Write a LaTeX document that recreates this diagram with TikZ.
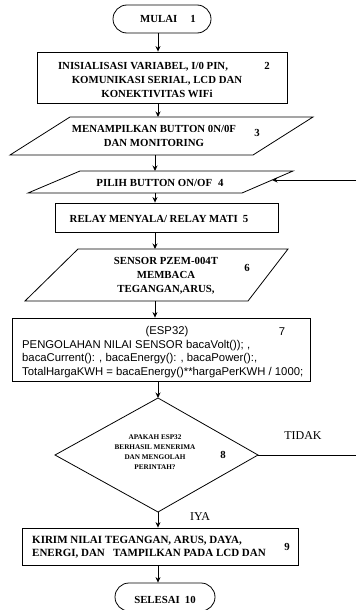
\documentclass[tikz,border=0pt]{standalone}
\usepackage{fontspec}
\setmainfont{Liberation Serif}
\newfontfamily\arialf{Liberation Sans}
\usetikzlibrary{arrows.meta}
\begin{document}
\begin{tikzpicture}[x=1pt,y=-1pt,
  shp/.style={draw=black, line width=0.8pt},
  arr/.style={-{Stealth[length=5.5pt,width=5pt]}, line width=0.9pt},
  tb/.style={inner sep=0pt, font=\fontsize{10.8}{14}\selectfont\bfseries, align=center},
  ts/.style={inner sep=0pt, font=\fontsize{7.2}{10}\selectfont\bfseries, align=center},
  ta/.style={inner sep=0pt, font=\arialf\fontsize{11.3}{13.3}\selectfont, align=left},
  tr/.style={inner sep=0pt, font=\fontsize{12}{14}\selectfont}]
\useasboundingbox (0,0) rectangle (356,610);
% coordinates for connector x positions
\coordinate (ax) at (158,0);
\coordinate (bx) at (155,0);
% 1 terminal
\node[shp, rounded corners=14pt, minimum width=98pt, minimum height=28pt, inner sep=0pt] (n1) at (162,19) {};
\node[tb] (t1) at (168,19) {MULAI\hspace{13pt}1};
% 2 box
\node[shp, minimum width=250pt, minimum height=51pt, inner sep=0pt] (n2) at (162,77.5) {};
\node[tb] (t2) at (157,80) {INISIALISASI VARIABEL, I/0 PIN,\hspace*{28pt}\\KOMUNIKASI SERIAL, LCD DAN\\KONEKTIVITAS WIFi};
\node[tb] (k2) at (267,66) {2};
% 3 parallelogram
\coordinate (p3t) at (158,117);
\coordinate (p3b) at (155,155);
\draw[shp] (70,117) -- (313,117) -- (253,155) -- (10,155) -- cycle;
\node[tb] (t3) at (154,135.5) {MENAMPILKAN BUTTON 0N/0F\\DAN MONITORING};
\node[tb] (k3) at (257,133) {3};
% 4 parallelogram
\coordinate (p4t) at (155,171);
\coordinate (p4b) at (155,193);
\coordinate (p4r) at (272,180);
\coordinate (e4) at (356,180);
\draw[shp] (80,171) -- (293,171) -- (242,193) -- (28,193) -- cycle;
\node[tb] (t4) at (160,183) {PILIH BUTTON ON/OF\hspace{6pt}4};
% 5 box
\node[shp, minimum width=223pt, minimum height=29pt, inner sep=0pt] (n5) at (166.5,217.5) {};
\node[tb] (t5) at (159,218.5) {RELAY MENYALA/ RELAY MATI\hspace{5pt}5};
% 6 parallelogram
\coordinate (p6t) at (155,249);
\coordinate (p6b) at (155,301);
\draw[shp] (78,249) -- (288,249) -- (248,301) -- (25,301) -- cycle;
\node[tb] (t6) at (166,276) {SENSOR PZEM-004T\\MEMBACA\\TEGANGAN,ARUS,};
\node[tb] (k6) at (247,268) {6};
% 7 box
\node[shp, minimum width=298pt, minimum height=63pt, inner sep=0pt] (n7) at (161,349.5) {};
\node[ta] (t7a) at (167,332) {(ESP32)};
\node[ta] (k7) at (282,332) {7};
\node[ta, anchor=west] (t7) at (22,359) {PENGOLAHAN NILAI SENSOR bacaVolt()); ,\\bacaCurrent(): , bacaEnergy(): , bacaPower():,\\TotalHargaKWH = bacaEnergy()**hargaPerKWH / 1000;};
% 8 diamond
\coordinate (d8t) at (158,398);
\coordinate (d8r) at (258,455);
\coordinate (d8b) at (158,512);
\coordinate (d8l) at (55,455);
\coordinate (e8) at (356,455);
\draw[shp] (d8t) -- (d8r) -- (d8b) -- (d8l) -- cycle;
\node[ts] (t8) at (155,452) {APAKAH ESP32\\BERHASIL MENERIMA\\DAN MENGOLAH\\PERINTAH?};
\node[tb] (k8) at (223,455) {8};
\node[tr] (tidak) at (303,436) {TIDAK};
\node[tr] (iya) at (200,517) {IYA};
% 9 box
\node[shp, minimum width=276pt, minimum height=37pt, inner sep=0pt] (n9) at (160,546.5) {};
\node[tb, anchor=west, align=left, font=\fontsize{11}{13}\selectfont\bfseries] (t9) at (32,547) {KIRIM NILAI TEGANGAN, ARUS, DAYA,\\ENERGI, DAN\ \ \ TAMPILKAN PADA LCD DAN};
\node[tb] (k9) at (287,547) {9};
% 10 terminal
\node[shp, rounded corners=14pt, minimum width=100pt, minimum height=28pt, inner sep=0pt] (n10) at (165,597) {};
\node[tb] (t10) at (165,600) {SELESAI\hspace{5pt}10};
% connectors
\draw[arr] (ax |- n1.south) -- (ax |- n2.north);
\draw[arr] (ax |- n2.south) -- (p3t);
\draw[arr] (p3b) -- (p4t);
\draw[arr] (p4b) -- (bx |- n5.north);
\draw[arr] (bx |- n5.south) -- (p6t);
\draw[arr] (p6b) -- (bx |- n7.north);
\draw[arr] (ax |- n7.south) -- (d8t);
\draw[arr] (d8b) -- (ax |- n9.north);
\draw[arr] (ax |- n9.south) -- (ax |- n10.north);
\draw[arr] (e4) -- (p4r);
\draw[line width=0.9pt] (d8r) -- (e8);
\end{tikzpicture}
\end{document}
